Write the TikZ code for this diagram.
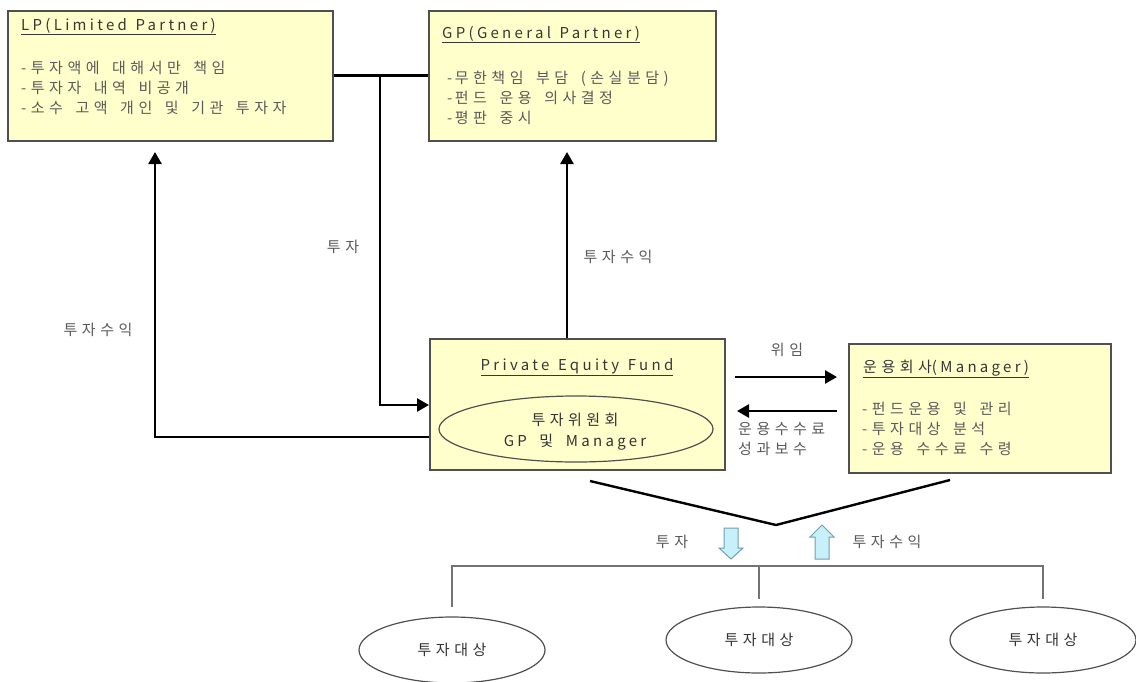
\documentclass[tikz,border=0pt]{standalone}
\usepackage{fontspec}
\setmainfont{Noto Sans CJK KR}
\newfontfamily\krf[LetterSpace=30,WordSpace=1.6]{Noto Sans CJK KR}
\newfontfamily\enf[LetterSpace=22,WordSpace=1.3]{Noto Sans CJK KR}
\usetikzlibrary{arrows.meta,shapes.geometric}
\definecolor{boxfill}{RGB}{255,255,204}
\definecolor{boxline}{RGB}{80,80,80}
\definecolor{txt}{RGB}{90,90,90}
\definecolor{ttltxt}{RGB}{55,55,55}
\definecolor{cyanfill}{RGB}{200,240,250}
\definecolor{cyanline}{RGB}{110,160,175}
\begin{document}
\begin{tikzpicture}[x=1pt,y=-1pt,
  panel/.style={draw=boxline,line width=1.5pt,fill=boxfill,anchor=north west,inner sep=0pt},
  lbl/.style={inner sep=0pt,text=txt,font=\fontsize{15}{17}\selectfont\krf,anchor=base west},
  lblc/.style={lbl,anchor=base},
  ttl/.style={inner sep=0pt,text=ttltxt,font=\fontsize{15}{17}\selectfont\enf,anchor=base west},
  dark/.style={inner sep=0pt,text=black!80,font=\fontsize{15}{17}\selectfont\krf,anchor=base},
  conn/.style={line width=2.6pt,black},
  arr/.style={conn,-{Triangle[length=12pt,width=13pt]}},
  oval/.style={ellipse,draw=boxline,line width=1.2pt,fill=white,minimum width=186pt,minimum height=66pt,inner sep=0pt},
  bus/.style={line width=1.6pt,draw=black!55},
  fat/.style={draw=cyanline,line width=1pt,fill=cyanfill,line join=miter}
]
\useasboundingbox[fill=white] (0,0) rectangle (1136,681);

% boxes
\node[panel,minimum width=325pt,minimum height=130pt] (lp) at (7,10) {};
\node[panel,minimum width=287pt,minimum height=130pt] (gp) at (428,10) {};
\node[panel,minimum width=295pt,minimum height=131pt] (fund) at (429,338) {};
\node[panel,minimum width=262pt,minimum height=129pt] (mgr) at (848,343) {};

% LP text
\node[ttl] (lpt) at (21,30) {\underline{LP(Limited Partner)}};
\node[lbl] (lp1) at (21,73) {-투자액에 대해서만 책임};
\node[lbl] (lp2) at (21,93) {-투자자 내역 비공개};
\node[lbl] (lp3) at (21,113) {-소수 고액 개인 및 기관 투자자};

% GP text
\node[ttl] (gpt) at (442,38) {\underline{GP(General Partner)}};
\node[lbl] (gp1) at (447,83) {-\,무한책임 부담 (손실분담)};
\node[lbl] (gp2) at (447,103) {-\,펀드 운용 의사결정};
\node[lbl] (gp3) at (447,123) {-\,평판 중시};

% Fund text
\node[ttl,anchor=base] (fundt) at (577,370) {\underline{Private Equity Fund}};
\node[oval,fill=boxfill,minimum width=274pt,minimum height=66pt] (com) at (576,429) {};
\node[dark] (com1) at (575,425) {투자위원회};
\node[dark] (com2) at (575,446) {{\enf GP} 및 {\enf Manager}};

% Manager text
\node[ttl] (mgrt) at (863,372) {\underline{{\krf 운용회사}(Manager)}};
\node[lbl] (mg1) at (862,414) {-펀드운용 및 관리};
\node[lbl] (mg2) at (862,434) {-투자대상 분석};
\node[lbl] (mg3) at (862,454) {-운용 수수료 수령};

% connectors top
\coordinate (j) at (380,75);
\coordinate (fin) at (429,405);
\coordinate (gpup) at (567,152);
\coordinate (lpup) at (155,152);
\coordinate (fout) at (429,437);
\draw[conn] (lp.east) -- (gp.west);
\draw[arr] (j) |- (fund.west |- fin);
\draw[arr] (fund.north -| gpup) -- (gpup);
\draw[arr] (fund.west |- fout) -| (lpup);

\coordinate (d1) at (735,377);
\coordinate (d2) at (837,377);
\coordinate (r1) at (837,411);
\coordinate (r2) at (737,411);
\draw[arr] (d1) -- (d2);
\draw[arr] (r1) -- (r2);

% labels
\node[lblc] (l1) at (343,252) {투자};
\node[lblc] (l2) at (98,335) {투자수익};
\node[lblc] (l3) at (618,262) {투자수익};
\node[lblc] (l4) at (787,355) {위임};
\node[lbl] (l5) at (738,434) {운용수수료};
\node[lbl] (l6) at (738,454) {성과보수};

% V line
\coordinate (va) at (590,481);
\coordinate (vb) at (776,525);
\coordinate (vc) at (950,480);
\draw[conn,line width=2.4pt] (va) -- (vb) -- (vc);

% fat arrows
\draw[fat] (724,528) -- (738,528) -- (738,548) -- (743,548) -- (731,559) -- (719,548) -- (724,548) -- cycle;
\draw[fat] (822,525) -- (834,537) -- (829,537) -- (829,559) -- (815,559) -- (815,537) -- (810,537) -- cycle;
\node[lblc] (l7) at (672,547) {투자};
\node[lblc] (l8) at (887,547) {투자수익};

% targets
\node[oval] (e1) at (452,650) {};
\node[oval] (e2) at (759,640) {};
\node[oval] (e3) at (1043,640) {};
\node[dark] (t1) at (e1.center) [yshift=-5pt] {투자대상};
\node[dark] (t2) at (e2.center) [yshift=-5pt] {투자대상};
\node[dark] (t3) at (e3.center) [yshift=-5pt] {투자대상};

\coordinate (bus) at (0,566);
\draw[bus] ([yshift=9pt]e1.north) -- (e1.north |- bus) -- (e3.north |- bus) -- ([yshift=7pt]e3.north);
\draw[bus] (e2.north |- bus) -- ([yshift=7pt]e2.north);
\end{tikzpicture}
\end{document}
